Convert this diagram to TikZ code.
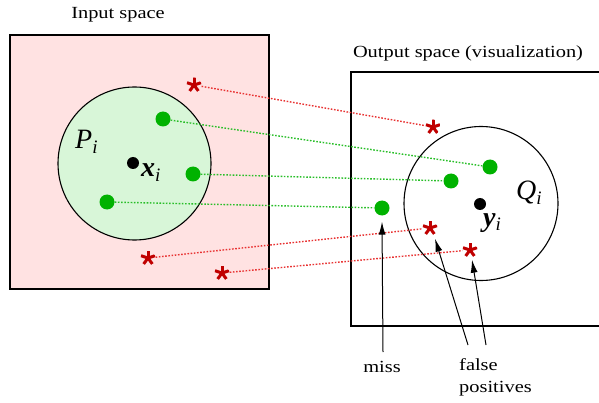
\documentclass[tikz,border=0pt]{standalone}
\usepackage{fontspec}
\setmainfont{Liberation Serif}[FakeStretch=1.2]
\newfontfamily\lblfont{Liberation Serif}
\usetikzlibrary{arrows.meta}
\definecolor{pinkbg}{RGB}{255,226,226}
\definecolor{greenbg}{RGB}{216,246,216}
\definecolor{dotgreen}{RGB}{0,178,0}
\definecolor{stardark}{RGB}{192,0,0}
\definecolor{linered}{RGB}{232,50,50}
\definecolor{linegreen}{RGB}{40,190,40}
\newcommand{\symlbl}[3]{{\lblfont#1\fontsize{28}{30}\selectfont #2}{\lblfont\itshape\fontsize{19}{20}\selectfont\raisebox{-5pt}{#3}}}
\tikzset{
  spacebox/.style={draw=black, line width=1.3pt},
  nbhd/.style={draw=black, line width=1.1pt},
  gdot/.style={circle, fill=dotgreen, minimum size=15pt, inner sep=0pt},
  bdot/.style={circle, fill=black, minimum size=12pt, inner sep=0pt},
  starnode/.style={circle, minimum size=15pt, inner sep=0pt,
    path picture={\foreach \a in {90,162,234,306,18}
      \draw[stardark, line width=3pt] (path picture bounding box.center) -- ++(\a:7.5pt);}},
  gline/.style={draw=linegreen, line width=1.4pt, dash pattern=on 1.6pt off 1.6pt},
  rline/.style={draw=linered, line width=1.4pt, dash pattern=on 1.6pt off 1.6pt},
  mathlbl/.style={inner sep=0pt, anchor=base west},
  txt/.style={inner sep=0pt, font=\fontsize{17}{22}\selectfont},
  pointer/.style={draw=black, line width=1pt, -{Latex[length=13pt,width=7pt]}}
}
\begin{document}
\begin{tikzpicture}[x=1pt,y=1pt]
\useasboundingbox (0,0) rectangle (599,402);
\clip (0,0) rectangle (599,402);
% input space
\fill[pinkbg] (10,113) rectangle (269,367);
\draw[spacebox] (10,113) rectangle (269,367);
\node[txt] (intitle) at (118,387) {Input space};
\node[nbhd, circle, fill=greenbg, minimum size=153pt, inner sep=0pt] (P) at (134.5,238.5) {};
\node[mathlbl] (Plbl) at (75,253) {\symlbl{\itshape}{P}{i}};
\node[bdot] (x) at (133,239) {};
\node[mathlbl] (xlbl) at (141,225) {\symlbl{\bfseries\itshape}{x}{i}};
% output space
\draw[spacebox] (610,330) -- (351,330) -- (351,76) -- (610,76);
\node[txt] (outtitle) at (468,349) {Output space (visualization)};
\node[nbhd, circle, minimum size=154pt, inner sep=0pt] (Q) at (481,198.5) {};
\node[mathlbl] (Qlbl) at (516,202) {\symlbl{\itshape}{Q}{i}};
\node[bdot] (y) at (480,198) {};
\node[mathlbl] (ylbl) at (483,176) {\symlbl{\bfseries\itshape}{y}{i}};
% points in input
\node[gdot] (g1) at (163,283) {};
\node[gdot] (g2) at (193,228) {};
\node[gdot] (g3) at (107,200) {};
\node[starnode] (r1) at (194,317) {};
\node[starnode] (r2) at (148,144) {};
\node[starnode] (r3) at (222,129) {};
% points in output
\node[gdot] (G1) at (490,235) {};
\node[gdot] (G2) at (451,221) {};
\node[gdot] (G3) at (382,194) {};
\node[starnode] (R1) at (433,275) {};
\node[starnode] (R2) at (430,174) {};
\node[starnode] (R3) at (470,152) {};
% correspondences
\draw[gline] (g1) -- (G1);
\draw[gline] (g2) -- (G2);
\draw[gline] (g3) -- (G3);
\draw[rline] (r1) -- (R1);
\draw[rline] (r2) -- (R2);
\draw[rline] (r3) -- (R3);
% annotations
\node[txt] (miss) at (382,35) {miss};
\node[txt, align=left, anchor=west] (fp) at (459,25) {false\\positives};
\coordinate (fa1) at (468,57);
\coordinate (fa2) at (486,57);
\coordinate (ma) at (383,50);
\draw[pointer] (ma) -- ([yshift=-6pt]G3.south);
\draw[pointer] (fa1) -- ([xshift=5pt,yshift=-3pt]R2.south);
\draw[pointer] (fa2) -- ([xshift=2pt,yshift=-2pt]R3.south);
\end{tikzpicture}
\end{document}
